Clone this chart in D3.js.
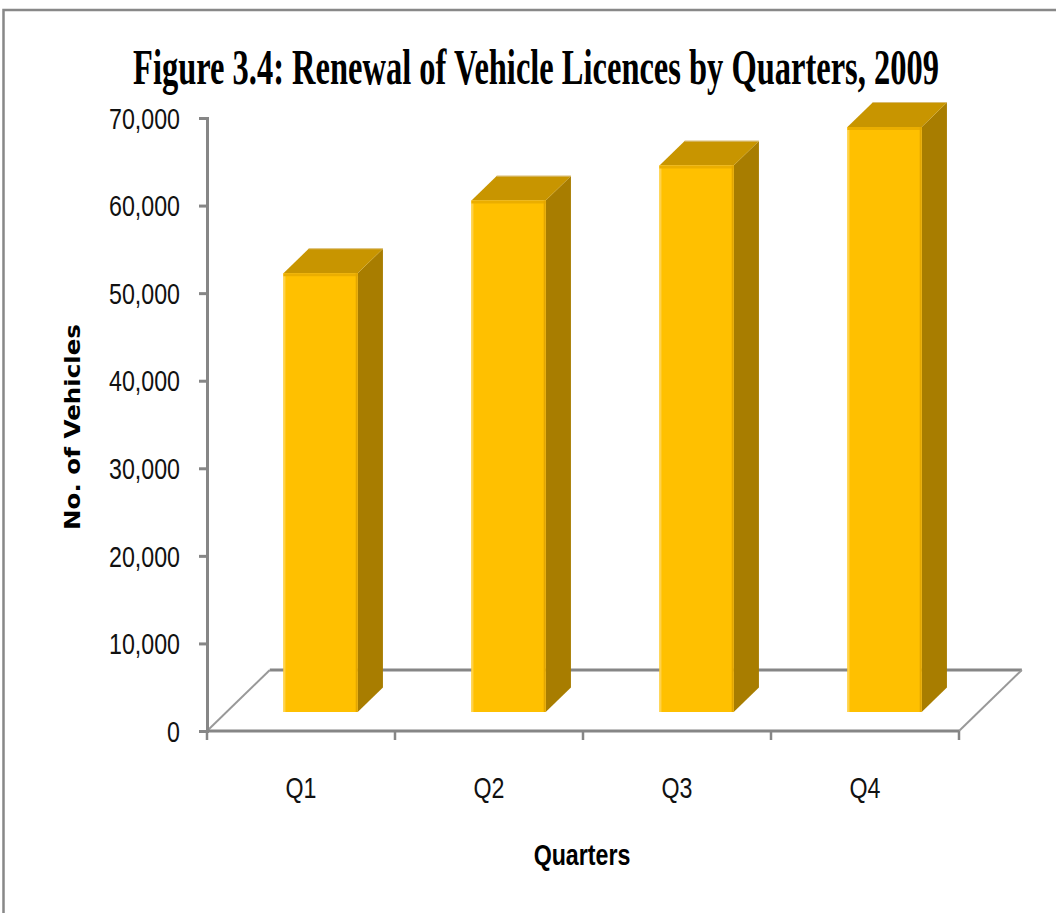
<!DOCTYPE html>
<html>
<head>
<meta charset="utf-8">
<script src="https://cdn.jsdelivr.net/npm/d3@7"></script>
<style>
  html, body { margin: 0; padding: 0; background: #fff; }
  svg { display: block; }
</style>
</head>
<body>
<svg id="chart" width="1056" height="913"></svg>
<script>
// Renewal of vehicle licences per quarter, 2009
const categories = ["Q1", "Q2", "Q3", "Q4"];
const renewals = [50100, 58400, 62400, 66800];
const yTicks = [0, 10000, 20000, 30000, 40000, 50000, 60000, 70000];
const titleText = "Figure 3.4: Renewal of Vehicle Licences by Quarters, 2009";
const xTitle = "Quarters";
const yTitle = "No. of Vehicles";

const svg = d3.select("#chart");

// outer chart frame
svg.append("rect")
  .attr("x", 3.5).attr("y", 10).attr("width", 1200).attr("height", 1000)
  .attr("fill", "#fff").attr("stroke", "#888").attr("stroke-width", 2.5);

// scales: front plane of the plot box
const y = d3.scaleLinear().domain([0, 70000]).range([731, 118]);
const x = d3.scaleBand().domain(categories).range([207, 959]).padding(0);

// oblique depth: z in pixels toward the back
const floorDepth = 61;
const kx = 1.03;
const proj = (px, py, z) => [px + z * kx, py - z];
const barZ0 = 19, barZ1 = 43.5;
const barW = x.bandwidth() * 0.395;

const axisColor = "#868686";

// floor outline
const g0 = svg.append("g");
const fl = [proj(x.range()[0], y(0), 0), proj(x.range()[1], y(0), 0),
            proj(x.range()[1], y(0), floorDepth), proj(x.range()[0], y(0), floorDepth)];
g0.append("line")
  .attr("x1", fl[3][0]).attr("y1", fl[3][1]).attr("x2", fl[2][0]).attr("y2", fl[2][1])
  .attr("stroke", axisColor).attr("stroke-width", 3);
g0.append("line")
  .attr("x1", fl[0][0]).attr("y1", fl[0][1]).attr("x2", fl[3][0]).attr("y2", fl[3][1])
  .attr("stroke", "#999").attr("stroke-width", 2);
g0.append("line")
  .attr("x1", fl[1][0]).attr("y1", fl[1][1]).attr("x2", fl[2][0]).attr("y2", fl[2][1])
  .attr("stroke", "#999").attr("stroke-width", 2);

// 3D bars
const data = categories.map((c, i) => ({ c, v: renewals[i] }));
const bars = svg.append("g").selectAll("g").data(data).join("g");

bars.each(function (d) {
  const g = d3.select(this);
  const cx = x(d.c) + x.bandwidth() / 2;
  const xl = cx - barW / 2, xr = cx + barW / 2;
  const yt = y(d.v), yb = y(0);
  const fLT = proj(xl, yt, barZ0), fRT = proj(xr, yt, barZ0);
  const fLB = proj(xl, yb, barZ0), fRB = proj(xr, yb, barZ0);
  const bLT = proj(xl, yt, barZ1), bRT = proj(xr, yt, barZ1), bRB = proj(xr, yb, barZ1);
  const poly = pts => pts.map(p => p.join(",")).join(" ");
  // side face
  g.append("polygon").attr("points", poly([fRT, bRT, bRB, fRB])).attr("fill", "#A87D00");
  // top face
  g.append("polygon").attr("points", poly([fLT, fRT, bRT, bLT])).attr("fill", "#C89500");
  // front face
  g.append("polygon").attr("points", poly([fLT, fRT, fRB, fLB])).attr("fill", "#FFC000");
  // edge shading
  g.append("line").attr("x1", fLT[0] + 1).attr("y1", fLT[1]).attr("x2", fLB[0] + 1).attr("y2", fLB[1])
    .attr("stroke", "#FFD24A").attr("stroke-width", 2);
  g.append("line").attr("x1", fLT[0]).attr("y1", fLT[1] + 1.5).attr("x2", fRT[0]).attr("y2", fRT[1] + 1.5)
    .attr("stroke", "#EBAE00").attr("stroke-width", 3);
  g.append("line").attr("x1", fRT[0] - 1).attr("y1", fRT[1]).attr("x2", fRB[0] - 1).attr("y2", fRB[1])
    .attr("stroke", "#E3A600").attr("stroke-width", 2);
  g.append("line").attr("x1", bLT[0]).attr("y1", bLT[1]).attr("x2", bRT[0]).attr("y2", bRT[1])
    .attr("stroke", "#D9BC72").attr("stroke-width", 1.2);
});

// value axis (front plane)
const yAxis = d3.axisLeft(y).tickValues(yTicks).tickSize(8).tickPadding(19)
  .tickFormat(d3.format(","));
const ya = svg.append("g").attr("transform", "translate(207,0)").call(yAxis);
ya.select(".domain").attr("stroke", axisColor).attr("stroke-width", 3);
ya.selectAll(".tick line").attr("stroke", axisColor).attr("stroke-width", 3);
ya.selectAll(".tick text")
  .attr("fill", "#111")
  .style("font-family", "Liberation Sans, Arial, sans-serif")
  .style("font-size", "29px")
  .attr("dy", "0.35em")
  .each(function () {
    const t = d3.select(this);
    const xx = +t.attr("x");
    t.attr("x", null).attr("transform", `translate(${xx},0) scale(0.8,1)`);
  });

// category axis (front floor edge)
const boundaries = [x.range()[0], ...categories.map(c => x(c) + x.bandwidth())];
const xa = svg.append("g");
xa.append("line").attr("x1", x.range()[0]).attr("x2", x.range()[1])
  .attr("y1", y(0)).attr("y2", y(0)).attr("stroke", axisColor).attr("stroke-width", 3);
xa.selectAll("line.tk").data(boundaries).join("line").attr("class", "tk")
  .attr("x1", d => d).attr("x2", d => d).attr("y1", y(0)).attr("y2", y(0) + 9)
  .attr("stroke", axisColor).attr("stroke-width", 2.5);
xa.selectAll("text").data(categories).join("text")
  .attr("transform", d => `translate(${x(d) + x.bandwidth() / 2},798) scale(0.8,1)`)
  .attr("text-anchor", "middle")
  .style("font-family", "Liberation Sans, Arial, sans-serif")
  .style("font-size", "29px")
  .attr("fill", "#111")
  .text(d => d);

// chart title, condensed horizontally to its set width
const title = svg.append("text")
  .attr("text-anchor", "middle")
  .style("font-family", "Liberation Serif, Times New Roman, serif")
  .style("font-weight", "bold").style("font-size", "50px")
  .attr("fill", "#000")
  .text(titleText);
const titleW = title.node().getComputedTextLength();
title.attr("transform", `translate(536,84) scale(${806 / titleW},1)`);

svg.append("text")
  .attr("transform", "translate(582,865) scale(0.8,1)")
  .attr("text-anchor", "middle")
  .style("font-family", "Liberation Sans, Arial, sans-serif")
  .style("font-weight", "bold").style("font-size", "29px")
  .attr("fill", "#000")
  .text(xTitle);

const yt = svg.append("text")
  .attr("text-anchor", "middle")
  .style("font-family", "DejaVu Sans, Verdana, sans-serif")
  .style("font-weight", "bold").style("font-size", "22px")
  .attr("fill", "#000")
  .text(yTitle);
const ytW = yt.node().getComputedTextLength();
yt.attr("transform", `translate(80,427) rotate(-90) scale(${206 / ytW},1)`);
</script>
</body>
</html>
